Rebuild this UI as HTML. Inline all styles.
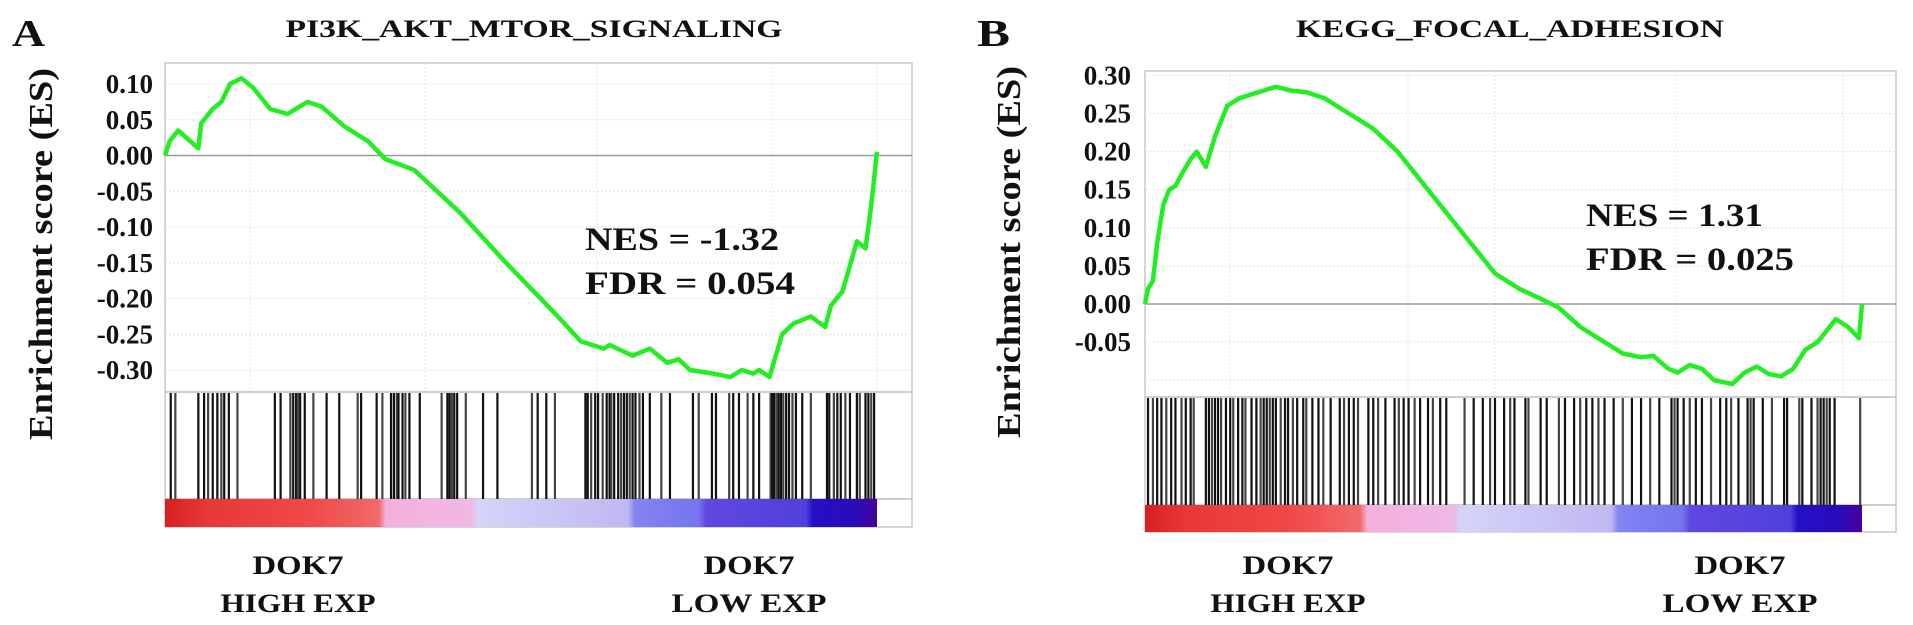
<!DOCTYPE html>
<html><head><meta charset="utf-8">
<style>
html,body{margin:0;padding:0;background:#fff;}
svg{display:block;font-family:"Liberation Serif",serif;font-weight:bold;}
</style></head>
<body>
<svg id="chart" width="1913" height="625" viewBox="0 0 1913 625" xmlns="http://www.w3.org/2000/svg">
<defs>
<linearGradient id="rankGrad" x1="0" x2="1" y1="0" y2="0">
<stop offset="0" stop-color="#d82020"/><stop offset="0.06" stop-color="#e83838"/>
<stop offset="0.2" stop-color="#f04848"/><stop offset="0.3" stop-color="#f06a6a"/>
<stop offset="0.31" stop-color="#f4b0dc"/><stop offset="0.43" stop-color="#f0b8e4"/>
<stop offset="0.44" stop-color="#d4d4f8"/><stop offset="0.65" stop-color="#c0b8f2"/>
<stop offset="0.66" stop-color="#8484f2"/><stop offset="0.75" stop-color="#7474ee"/>
<stop offset="0.76" stop-color="#6048e0"/><stop offset="0.9" stop-color="#5040dc"/>
<stop offset="0.91" stop-color="#2410c4"/><stop offset="0.97" stop-color="#2a0cb8"/>
<stop offset="1" stop-color="#48009a"/>
</linearGradient>
</defs>
</svg>
<script>
// ---------- Panel A data ----------
const aTicks = [0.10, 0.05, 0.00, -0.05, -0.10, -0.15, -0.20, -0.25, -0.30];
const aTickLabels = ["0.10","0.05","0.00","-0.05","-0.10","-0.15","-0.20","-0.25","-0.30"];
const aRanks = [0,8,23,58,63,83,98,113,133,153,183,213,233,248,273,313,353,383,433,513,593,653,683,723,763,773,813,843,873,893,913,953,983,1003,1023,1033,1051,1073,1093,1123,1148,1158,1178,1203,1218,1228,1238];
const aES = [0,0.02,0.035,0.01,0.045,0.065,0.075,0.1,0.108,0.095,0.065,0.058,0.068,0.075,0.068,0.04,0.02,-0.005,-0.02,-0.08,-0.15,-0.2,-0.225,-0.26,-0.27,-0.265,-0.28,-0.27,-0.29,-0.285,-0.3,-0.305,-0.31,-0.3,-0.305,-0.3,-0.31,-0.25,-0.235,-0.225,-0.24,-0.21,-0.19,-0.12,-0.13,-0.07,0.005];
const aHits = [10,18,58,68,75,83,91,98,103,111,126,191,201,218,223,228,231,235,243,258,281,303,335,341,368,378,393,398,403,406,413,418,425,443,481,491,495,499,503,508,523,553,578,638,648,663,678,731,735,741,748,753,761,768,773,776,781,788,793,798,803,808,813,818,825,831,843,863,878,918,928,951,958,981,988,998,1013,1023,1033,1053,1056,1059,1063,1067,1071,1075,1080,1085,1091,1097,1108,1123,1151,1155,1163,1169,1175,1183,1191,1203,1208,1218,1223,1228,1233];
// ---------- Panel B data ----------
const bTicks = [0.30,0.25,0.20,0.15,0.10,0.05,0.00,-0.05];
const bTickLabels = ["0.30","0.25","0.20","0.15","0.10","0.05","0.00","-0.05"];
const bRanks = [0,5,13,20,30,40,50,60,75,85,100,115,135,155,175,195,215,240,265,295,335,375,415,455,495,535,575,615,655,680,715,755,785,815,835,860,875,895,915,935,965,985,1005,1025,1045,1065,1085,1105,1135,1155,1173,1178];
const bES = [0,0.02,0.03,0.08,0.13,0.15,0.155,0.17,0.19,0.2,0.18,0.22,0.26,0.27,0.275,0.28,0.285,0.28,0.278,0.27,0.25,0.23,0.2,0.16,0.12,0.08,0.04,0.02,0.005,-0.005,-0.03,-0.05,-0.065,-0.07,-0.068,-0.085,-0.09,-0.08,-0.085,-0.1,-0.105,-0.09,-0.082,-0.092,-0.095,-0.085,-0.06,-0.05,-0.02,-0.03,-0.045,0];
const bHits = [5,13,20,27,35,43,50,60,67,75,80,100,105,110,115,120,125,133,140,145,153,160,165,175,183,190,195,200,205,210,215,223,230,235,243,250,260,265,275,285,293,305,320,327,335,343,350,367,375,383,395,410,417,425,433,443,452,465,473,485,495,525,540,555,567,575,590,600,607,625,630,650,660,680,690,705,715,725,735,745,755,770,785,800,815,830,845,865,870,875,885,895,905,915,930,945,955,963,975,990,995,1000,1015,1030,1050,1055,1075,1080,1095,1105,1110,1115,1120,1125,1133,1175];

const NS="http://www.w3.org/2000/svg";
const svg=document.getElementById('chart');
function mk(tag,attrs,parent){const e=document.createElementNS(NS,tag);for(const k in attrs)e.setAttribute(k,attrs[k]);(parent||svg).appendChild(e);return e;}
function txt(str,attrs,parent){const e=mk('text',attrs,parent);e.textContent=str;return e;}

function panel(cfg){
  const g=mk('g',{});
  
  
  const xs=r=>cfg.x0+(r-cfg.rmin)/(cfg.rmax-cfg.rmin)*(cfg.x1-cfg.x0);
  const ys=v=>cfg.yZero-v/0.05*cfg.yStep;
  const box=mk('rect',{x:cfg.bx0,y:cfg.by0,width:cfg.bx1-cfg.bx0,height:cfg.cb1-cfg.by0,fill:'#fff',stroke:'#c8c8c8','stroke-width':1.5},g);
  
  
  cfg.gridVals.forEach(v=>{
    const l=mk('line',{x1:cfg.bx0,x2:cfg.bx1,y1:ys(v),y2:ys(v),stroke:'#e4e4e4','stroke-width':1,'stroke-dasharray':'2,2'},g);
    
    
  });
  cfg.vgrid.forEach(x=>{
    const l=mk('line',{x1:x,x2:x,y1:cfg.by0,y2:cfg.esBottom,stroke:'#e4e4e4','stroke-width':1,'stroke-dasharray':'2,2'},g);
    
    
  });
  const z=mk('line',{x1:cfg.bx0,x2:cfg.bx1,y1:ys(0),y2:ys(0),stroke:'#9a9a9a','stroke-width':1.5},g);
  
  
  [cfg.esBottom,cfg.cb0].forEach(y=>{
    const l=mk('line',{x1:cfg.bx0,x2:cfg.bx1,y1:y,y2:y,stroke:'#bdbdbd','stroke-width':1.5},g);
    
    
  });
  cfg.ticks.forEach((v,i)=>{
    const t=txt(cfg.tickLabels[i],{x:cfg.tickX,y:ys(v)+9,'text-anchor':'end','font-size':27,fill:'#111'},g);
    
    
  });
  const hg=mk('g',{},g);
  
  
  cfg.hits.forEach((r,i)=>{
    const l=mk('line',{x1:xs(r),x2:xs(r),y1:cfg.esBottom+1,y2:cfg.cb0,stroke:i%3==1?'#444':'#111','stroke-width':2.2},hg);
    
    
  });
  const cb=mk('rect',{x:cfg.x0,y:cfg.cb0,width:cfg.x1-cfg.x0,height:cfg.cb1-cfg.cb0,fill:'url(#rankGrad)'},g);
  
  
  const pts=cfg.ranks.map((r,i)=>xs(r).toFixed(1)+','+ys(cfg.es[i]).toFixed(1)).join(' ');
  const pl=mk('polyline',{points:pts,fill:'none',stroke:'#22ee22','stroke-width':4.5,'stroke-linejoin':'round'},g);
  
  
  const pt=txt(cfg.title,{x:cfg.titleX,y:37,'text-anchor':'middle','font-size':25,textLength:cfg.titleLen,lengthAdjust:'spacingAndGlyphs',fill:'#111'},g);
  
  
  const pl2=txt(cfg.letter,{x:cfg.letterX,y:46,'font-size':38,textLength:33,lengthAdjust:'spacingAndGlyphs',fill:'#111'},g);
  
  
  const yt=txt('Enrichment score (ES)',{x:0,y:0,'text-anchor':'middle','font-size':34,textLength:372,lengthAdjust:'spacingAndGlyphs',transform:`translate(${cfg.axisX},${cfg.axisY}) rotate(-90)`,fill:'#111'},g);
  
  
  const n=txt(cfg.nes,{x:cfg.nesX,y:cfg.nesY,'font-size':33,textLength:cfg.nesLen,lengthAdjust:'spacingAndGlyphs',fill:'#111'},g);
  
  
  const f=txt(cfg.fdr,{x:cfg.nesX,y:cfg.nesY+44,'font-size':33,textLength:cfg.fdrLen,lengthAdjust:'spacingAndGlyphs',fill:'#111'},g);
  
  
  [[cfg.hiX,'HIGH EXP','high-exp-label'],[cfg.loX,'LOW EXP','low-exp-label']].forEach(([x,s,nm])=>{
    const d=txt('DOK7',{x:x,y:574,'text-anchor':'middle','font-size':26,textLength:91,lengthAdjust:'spacingAndGlyphs',fill:'#111'},g);
    
    
    const h=txt(s,{x:x,y:612,'text-anchor':'middle','font-size':26,textLength:155,lengthAdjust:'spacingAndGlyphs',fill:'#111'},g);
    
    
  });
}

panel({name:'panel-a',letter:'A',letterX:12,title:'PI3K_AKT_MTOR_SIGNALING',titleX:534,titleLen:497,
  bx0:165,bx1:912,by0:63,esBottom:392,cb0:499,cb1:527,x0:165,x1:877,rmin:0,rmax:1238,
  yZero:155.5,yStep:35.75,ticks:aTicks,tickLabels:aTickLabels,gridVals:[0.10,0.05,-0.05,-0.10,-0.15,-0.20,-0.25,-0.30],
  vgrid:[250,425,597,772,877],tickX:153,axisX:52,axisY:254,
  ranks:aRanks,es:aES,hits:aHits,nes:'NES = -1.32',fdr:'FDR = 0.054',nesX:585,nesY:250,nesLen:194,fdrLen:210,hiX:298,loX:749});
panel({name:'panel-b',letter:'B',letterX:977,title:'KEGG_FOCAL_ADHESION',titleX:1510,titleLen:428,
  bx0:1145,bx1:1896,by0:71,esBottom:397,cb0:505,cb1:532,x0:1145,x1:1862,rmin:0,rmax:1178,
  yZero:304,yStep:38.1,ticks:bTicks,tickLabels:bTickLabels,gridVals:[0.30,0.25,0.20,0.15,0.10,0.05,-0.05,-0.10],
  vgrid:[1230,1408,1495,1676,1843],tickX:1131,axisX:1020,axisY:252,
  ranks:bRanks,es:bES,hits:bHits,nes:'NES = 1.31',fdr:'FDR = 0.025',nesX:1586,nesY:226,nesLen:177,fdrLen:208,hiX:1288,loX:1740});
</script>
</body></html>
